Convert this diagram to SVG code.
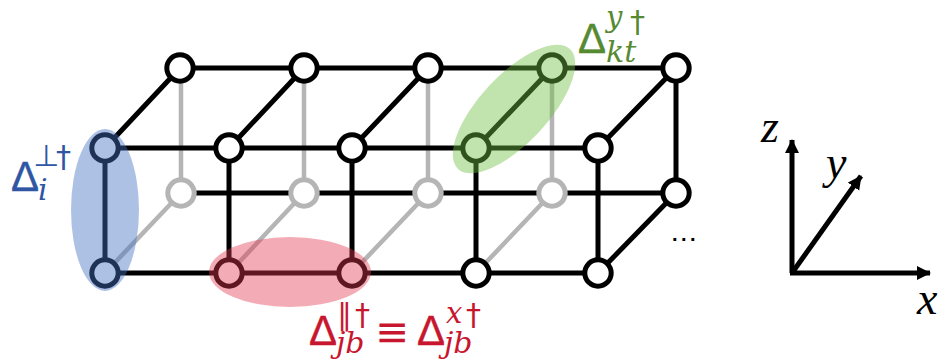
<svg xmlns="http://www.w3.org/2000/svg" width="940" height="363" viewBox="0 0 940 363">
<style>
.k{stroke:#000;stroke-width:5;fill:none}
.g{stroke:#b5b5b5;stroke-width:4.5;fill:none}
.n circle{fill:#fff;stroke:#000;stroke-width:5}
.n.gr circle{stroke:#b5b5b5}
.d{font-family:"Liberation Sans",sans-serif;font-size:42px;stroke-width:.4}
.s{font-family:"DejaVu Serif","Liberation Serif",serif;font-style:italic;font-size:30px}
.t{font-family:"DejaVu Serif","Liberation Serif",serif;font-style:italic;font-size:29px}
.u{font-family:"DejaVu Sans","Liberation Sans",sans-serif;font-size:30px}
.a{font-family:"Liberation Serif",serif;font-style:italic;font-size:46px;fill:#000}
.bl{fill:#2f55a4;stroke:#2f55a4}.rd{fill:#c8162f;stroke:#c8162f}.gn{fill:#568a32;stroke:#568a32}
.s,.t,.u,.e{stroke:none}
.e{font-family:"DejaVu Sans",sans-serif;font-size:42px}
.ax{stroke:#000;stroke-width:5;fill:none;marker-end:url(#ah)}
</style>
<defs>
<marker id="ah" markerUnits="userSpaceOnUse" markerWidth="15" markerHeight="15" refX="13" refY="7" orient="auto"><path d="M0 0L14 7L0 14Z" fill="#000"/></marker>
</defs>
<g id="connectors">
<path class="g" d="M181 68V193M304 68V193M428 68V193M552 68V193M105 273L181 193M229 273L304 193M352 273L428 193M476 273L552 193"/>
<path class="k" d="M180 68H676M105 148H598M181 193H676M105 273H598M105 148V273M229 148V273M352 148V273M476 148V273M598 148V273M676 68V193M105 148L180 68M229 148L304 68M352 148L428 68M476 148L552 68M598 148L676 68M598 273L676 193"/>
</g>
<g id="back-bottom-nodes">
<g id="n-b1" class="n gr"><circle cx="181" cy="193" r="13.2"/></g>
<g id="n-b2" class="n gr"><circle cx="304" cy="193" r="13.2"/></g>
<g id="n-b3" class="n gr"><circle cx="428" cy="193" r="13.2"/></g>
<g id="n-b4" class="n gr"><circle cx="552" cy="193" r="13.2"/></g>
<g id="n-b5" class="n"><circle cx="676" cy="193" r="13.2"/></g>
</g>
<g id="back-top-nodes">
<g id="n-t1" class="n"><circle cx="180" cy="68" r="13.2"/></g>
<g id="n-t2" class="n"><circle cx="304" cy="68" r="13.2"/></g>
<g id="n-t3" class="n"><circle cx="428" cy="68" r="13.2"/></g>
<g id="n-t4" class="n"><circle cx="552" cy="68" r="13.2"/></g>
<g id="n-t5" class="n"><circle cx="676" cy="68" r="13.2"/></g>
</g>
<g id="front-top-nodes">
<g id="n-f1" class="n"><circle cx="105" cy="148" r="13.2"/></g>
<g id="n-f2" class="n"><circle cx="229" cy="148" r="13.2"/></g>
<g id="n-f3" class="n"><circle cx="352" cy="148" r="13.2"/></g>
<g id="n-f4" class="n"><circle cx="476" cy="148" r="13.2"/></g>
<g id="n-f5" class="n"><circle cx="598" cy="148" r="13.2"/></g>
</g>
<g id="front-bottom-nodes">
<g id="n-l1" class="n"><circle cx="105" cy="273" r="13.2"/></g>
<g id="n-l2" class="n"><circle cx="229" cy="273" r="13.2"/></g>
<g id="n-l3" class="n"><circle cx="352" cy="273" r="13.2"/></g>
<g id="n-l4" class="n"><circle cx="476" cy="273" r="13.2"/></g>
<g id="n-l5" class="n"><circle cx="598" cy="273" r="13.2"/></g>
</g>
<g id="highlights">
<ellipse cx="105" cy="210" rx="34" ry="81" fill="#4472c4" fill-opacity=".44"/>
<ellipse cx="290" cy="272" rx="81" ry="35" fill="#e2384f" fill-opacity=".42"/>
<ellipse cx="514" cy="109" rx="82" ry="34" transform="rotate(-47 514 109)" fill="#70bf40" fill-opacity=".43"/>
</g>
<g id="label-perp">
<text class="d bl" x="11" y="191">Δ</text>
<text class="u bl" x="33" y="166">⊥</text><text class="u bl" x="56" y="167">†</text>
<text class="s bl" x="38" y="200">i</text>
</g>
<g id="label-par">
<text class="d rd" x="309" y="345">Δ</text>
<text class="u rd" x="337" y="325">∥</text><text class="u rd" x="355" y="325">†</text>
<text class="s rd" x="336" y="353">jb</text>
<text class="e rd" x="375" y="346" textLength="34" lengthAdjust="spacingAndGlyphs">≡</text>
<text class="d rd" x="417" y="345">Δ</text>
<text class="t rd" x="446" y="323">x</text><text class="u rd" x="466" y="325">†</text>
<text class="s rd" x="444" y="353">jb</text>
</g>
<g id="label-y">
<text class="d gn" x="578" y="53">Δ</text>
<text class="t gn" x="606" y="27">y</text><text class="u gn" x="630" y="32">†</text>
<text class="s gn" x="606" y="62">kt</text>
</g>
<g id="axes">
<path class="ax" d="M792 273V140"/>
<path class="ax" d="M790 273H930"/>
<path class="ax" d="M792 273L861 176"/>
<text class="a" x="761" y="142">z</text>
<text class="a" x="826" y="178">y</text>
<text class="a" x="917" y="314">x</text>
</g>
<text id="ellipsis" x="672" y="241" font-family="Liberation Sans,sans-serif" font-weight="700" font-size="20" fill="#000" letter-spacing="3.5">...</text>
</svg>
